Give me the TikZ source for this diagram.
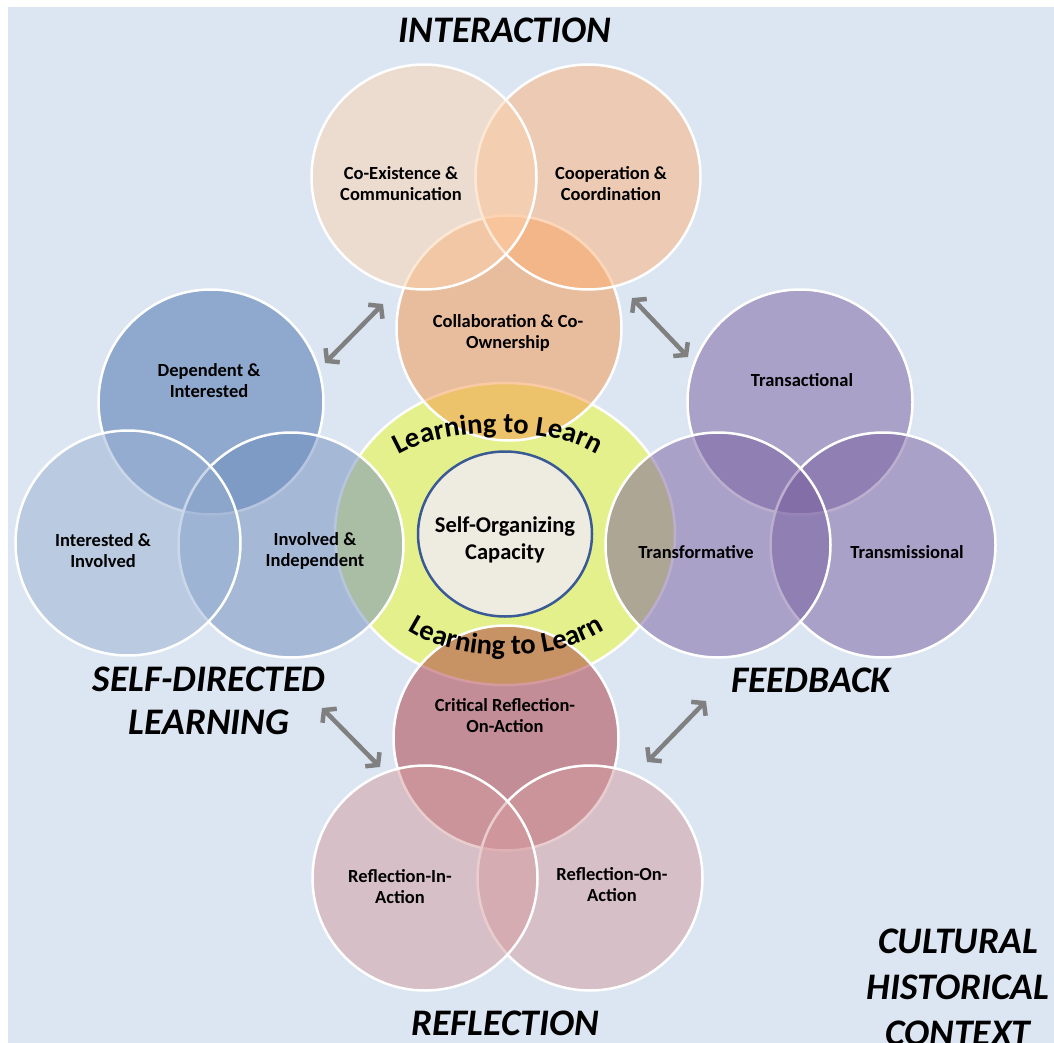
\documentclass[tikz,border=0pt]{standalone}
\usepackage{fontspec}
\setmainfont{Carlito}
\usetikzlibrary{shapes.geometric, arrows.meta, decorations.text}

\definecolor{backblue}{RGB}{220,230,242}
\definecolor{ringgreen}{RGB}{228,240,140}
\definecolor{coreface}{RGB}{238,236,225}
\definecolor{coreline}{RGB}{58,90,150}
\definecolor{arrowgray}{RGB}{128,128,128}
% bubble colours, all drawn at half opacity
\definecolor{coexcol}{RGB}{252,210,174}
\definecolor{coopcol}{RGB}{254,176,118}
\definecolor{collabcol}{RGB}{244,150,74}
\definecolor{depcol}{RGB}{66,110,170}
\definecolor{intcol}{RGB}{152,176,210}
\definecolor{indcol}{RGB}{112,142,190}
\definecolor{fbcol}{RGB}{120,94,158}
\definecolor{critcol}{RGB}{172,54,62}
\definecolor{reflcol}{RGB}{212,154,158}

\newcommand{\headfont}{\fontsize{37.5}{43}\selectfont\bfseries\itshape}
\newcommand{\ringfont}{\fontsize{28.5}{30}\selectfont\bfseries}

\begin{document}
\begin{tikzpicture}[
    x=1pt, y=-1pt,
    bubble/.style={circle, draw=white, line width=2.5pt, fill=#1, fill opacity=0.5, minimum size=225pt, inner sep=0pt},
    tag/.style={align=center, font=\fontsize{18.5}{21}\selectfont\bfseries, text=black},
    head/.style={align=center, font=\headfont, text=black},
    link/.style={draw=arrowgray, line width=4.5pt, {Straight Barb[length=8pt,width=20pt]}-{Straight Barb[length=8pt,width=20pt]}}
]
    \path [use as bounding box] (0,0) rectangle (1054,1043);
    \fill [white] (0,0) rectangle (1054,1043);
    \fill [backblue] (8,7) rectangle (1054,1043);

    % learning to learn ring
    \node [ellipse, draw=white, line width=2.5pt, fill=ringgreen, minimum width=340pt, minimum height=302pt] (ring) at (505,534) {};

    % interaction
    \node [bubble=collabcol] (collab) at (509,328) {};
    \node [bubble=coopcol] (coop) at (588,177) {};
    \node [bubble=coexcol] (coex) at (424,177) {};

    % self-directed learning
    \node [bubble=depcol] (dep) at (211,402) {};
    \node [bubble=indcol] (indep) at (291,545) {};
    \node [bubble=intcol] (inter) at (128,543) {};

    % feedback
    \node [bubble=fbcol] (transac) at (800,402) {};
    \node [bubble=fbcol] (transm) at (883,545) {};
    \node [bubble=fbcol] (transf) at (718,545) {};

    % reflection
    \node [bubble=critcol] (crit) at (506,738) {};
    \node [bubble=reflcol] (refon) at (590,878) {};
    \node [bubble=reflcol] (refin) at (425,878) {};

    % core
    \node [ellipse, draw=coreline, line width=2.5pt, fill=coreface, minimum width=174pt, minimum height=165pt] (core) at (505,534) {};
    \node [align=center, font=\fontsize{22.5}{27}\selectfont\bfseries] (core-t) at (505,540) {Self-Organizing\\Capacity};

    \path [decorate, decoration={text along path, text align=center, text={|\ringfont|Learning to Learn}}]
        (390,460) .. controls (438,424) and (562,424) .. (605,460);
    \path [decorate, decoration={text along path, text align=center, text={|\ringfont|Learning to Learn}}]
        (404,628) .. controls (455,664) and (557,664) .. (608,628);

    \node [tag] (coex-t) at (401,184) {Co-Existence \&\\Communication};
    \node [tag] (coop-t) at (611,184) {Cooperation \&\\Coordination};
    \node [tag] (collab-t) at (508,333) {Collaboration \& Co-\\Ownership};
    \node [tag] (dep-t) at (209,381) {Dependent \&\\Interested};
    \node [tag] (inter-t) at (103,551) {Interested \&\\Involved};
    \node [tag] (indep-t) at (315,551) {Involved \&\\Independent};
    \node [tag] (transac-t) at (802,380) {Transactional};
    \node [tag] (transf-t) at (696,552) {Transformative};
    \node [tag] (transm-t) at (907,552) {Transmissional};
    \node [tag] (crit-t) at (505,716) {Critical Reflection-\\On-Action};
    \node [tag] (refin-t) at (400,887) {Reflection-In-\\Action};
    \node [tag] (refon-t) at (612,885) {Reflection-On-\\Action};

    \node [head] (interaction) at (505,30) {INTERACTION};
    \node [head] (selfdir) at (209,701) {SELF-DIRECTED\\LEARNING};
    \node [head] (feedback) at (811,680) {FEEDBACK};
    \node [head] (reflection) at (505,1023) {REFLECTION};
    \node [head, font=\headfont\fontsize{37.5}{46}\selectfont] (context) at (958,987) {CULTURAL\\HISTORICAL\\CONTEXT};

    % links between the groups
    \coordinate (sdl-a) at (325,363);
    \coordinate (int-a) at (383,304);
    \coordinate (int-b) at (632,298);
    \coordinate (fb-a) at (688,357);
    \coordinate (sdl-b) at (322,708);
    \coordinate (ref-a) at (380,767);
    \coordinate (fb-b) at (706,701);
    \coordinate (ref-b) at (647,762);
    \path [link] (sdl-a) -- (int-a);
    \path [link] (int-b) -- (fb-a);
    \path [link] (sdl-b) -- (ref-a);
    \path [link] (fb-b) -- (ref-b);
\end{tikzpicture}
\end{document}
